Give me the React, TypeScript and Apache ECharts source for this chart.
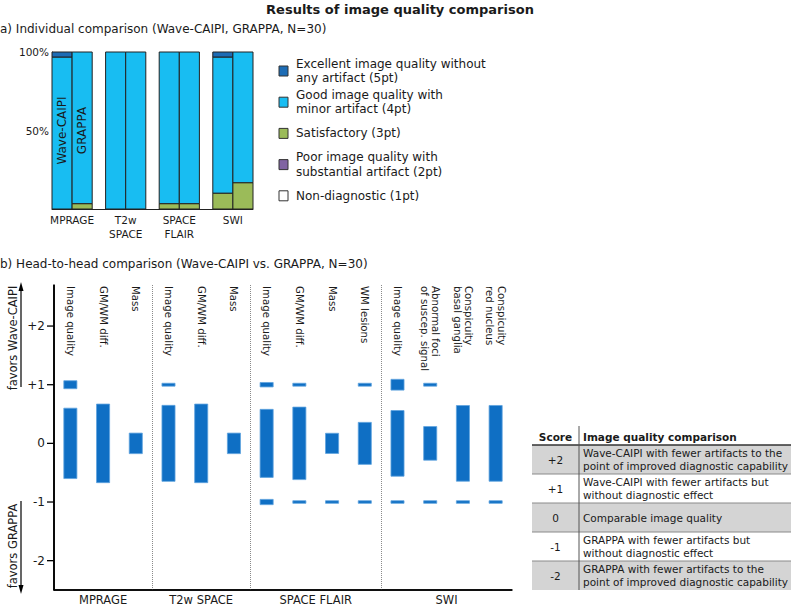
import React, { useEffect, useRef } from 'react';
import * as echarts from 'echarts';

const FONT = 'DejaVu Sans';
const INK = '#1a1a1a';

// ---------- Panel a: individual comparison ----------
const methodLabels = ['Wave-CAIPI', 'GRAPPA'];
const sequenceLabelsA = ['MPRAGE', 'T2w\nSPACE', 'SPACE\nFLAIR', 'SWI'];
const levelNames = [
  'Excellent image quality without\nany artifact (5pt)',
  'Good image quality with\nminor artifact (4pt)',
  'Satisfactory (3pt)',
  'Poor image quality with\nsubstantial artifact (2pt)',
  'Non-diagnostic (1pt)',
];
const levelColors = ['#1d6cb5', '#18bdf2', '#9bbb59', '#8064a2', '#ffffff'];
// bars: MPRAGE W, MPRAGE G, T2w W, T2w G, FLAIR W, FLAIR G, SWI W, SWI G (patients, N=30)
const count5pt = [1, 0, 0, 0, 0, 0, 1, 0];
const count4pt = [29, 29, 30, 30, 29, 29, 26, 25];
const count3pt = [0, 1, 0, 0, 1, 1, 3, 5];
const count2pt = [0, 0, 0, 0, 0, 0, 0, 0];
const count1pt = [0, 0, 0, 0, 0, 0, 0, 0];
const N = 30;
const tickValuesA = [50, 100];

// ---------- Panel b: head-to-head ----------
const groupLabelsB = ['MPRAGE', 'T2w SPACE', 'SPACE FLAIR', 'SWI'];
const catLabelsB = [
  'Image quality', 'GM/WM diff.', 'Mass',
  'Image quality', 'GM/WM diff.', 'Mass',
  'Image quality', 'GM/WM diff.', 'Mass', 'WM lesions',
  'Image quality', 'Abnormal foci\nof suscep. signal', 'Conspicuity\nbasal ganglia', 'Conspicuity\nred nucleus',
];
const catGroupB = [0, 0, 0, 1, 1, 1, 2, 2, 2, 2, 3, 3, 3, 3];
// half-heights of the distribution bars at score 0, +1, -1
const halfAtZero = [0.6, 0.67, 0.175, 0.648, 0.67, 0.175, 0.58, 0.618, 0.172, 0.358, 0.56, 0.287, 0.645, 0.646];
const halfAtPlus1 = [0.068, 0, 0, 0.025, 0, 0, 0.038, 0.025, 0, 0.025, 0.092, 0.025, 0, 0];
const halfAtMinus1 = [0, 0, 0, 0, 0, 0, 0.045, 0.022, 0.022, 0.022, 0.022, 0.022, 0.022, 0.022];
const scoreTicksB = [-2, -1, 0, 1, 2];
const scoreMinB = -2.5;
const scoreMaxB = 2.7;

// ---------- Table ----------
const tableScores = ['+2', '+1', '0', '-1', '-2'];
const tableTexts = [
  'Wave-CAIPI with fewer artifacts to the\npoint of improved diagnostic capability',
  'Wave-CAIPI with fewer artifacts but\nwithout diagnostic effect',
  'Comparable image quality',
  'GRAPPA with fewer artifacts but\nwithout diagnostic effect',
  'GRAPPA with fewer artifacts to the\npoint of improved diagnostic capability',
];

const GAP = 2 / 3;
const xMinB = -0.5;
const xMaxB = catLabelsB.length - 0.5;
const GRID_A = { left: 52, top: 52, width: 201, height: 157 };
const GRID_B = { left: 54, top: 285, width: 458, height: 305 };

function buildGraphics() {
  const graphics: any[] = [];
  levelNames.forEach((name, i) => {
    const cy = 71 + i * 31.2;
    graphics.push({
      type: 'rect', x: 279, y: cy - 5,
      shape: { x: 0, y: 0, width: 9, height: 10 },
      style: { fill: levelColors[i], stroke: '#333', lineWidth: 1 },
    });
    graphics.push({
      type: 'text', x: 296, y: cy,
      style: { text: name, fill: INK, fontSize: 12, fontFamily: FONT, verticalAlign: 'middle', lineHeight: 14.5 },
    });
  });

  graphics.push({
    type: 'text', x: 13, y: 338, rotation: Math.PI / 2,
    style: { text: 'favors Wave-CAIPI', fill: INK, fontSize: 11.5, fontFamily: FONT, align: 'center', verticalAlign: 'middle' },
  });
  graphics.push({ type: 'line', shape: { x1: 21, y1: 290, x2: 21, y2: 387 }, style: { stroke: '#000', lineWidth: 1.2 } });
  graphics.push({ type: 'polygon', shape: { points: [[21, 282], [18.5, 291], [23.5, 291]] }, style: { fill: '#000' } });
  graphics.push({
    type: 'text', x: 13, y: 546, rotation: Math.PI / 2,
    style: { text: 'favors GRAPPA', fill: INK, fontSize: 11.5, fontFamily: FONT, align: 'center', verticalAlign: 'middle' },
  });
  graphics.push({ type: 'line', shape: { x1: 21, y1: 501, x2: 21, y2: 586 }, style: { stroke: '#000', lineWidth: 1.2 } });
  graphics.push({ type: 'polygon', shape: { points: [[21, 594], [18.5, 585], [23.5, 585]] }, style: { fill: '#000' } });

  // frame and ticks of the score axis (linear map of the y axis extent onto the grid)
  const gx = GRID_B.left, gy0 = GRID_B.top, gy1 = GRID_B.top + GRID_B.height, gx1 = GRID_B.left + GRID_B.width;
  graphics.push({ type: 'line', z: 100, shape: { x1: gx, y1: gy0, x2: gx, y2: gy1 }, style: { stroke: '#000', lineWidth: 1.6 } });
  graphics.push({ type: 'line', z: 100, shape: { x1: gx, y1: gy1, x2: gx1, y2: gy1 }, style: { stroke: '#000', lineWidth: 1.6 } });
  scoreTicksB.forEach((v) => {
    const ty = gy0 + ((scoreMaxB - v) / (scoreMaxB - scoreMinB)) * GRID_B.height;
    graphics.push({ type: 'line', z: 100, shape: { x1: gx - 7, y1: ty, x2: gx, y2: ty }, style: { stroke: '#000', lineWidth: 1.3 } });
  });

  const tx0 = 532, tx1 = 791, tcol = 579, headTop = 426, headBot = 445, rowH = 29;
  tableScores.forEach((s, i) => {
    const top = headBot + i * rowH;
    if (i % 2 === 0) {
      graphics.push({
        type: 'rect', x: tx0, y: top, shape: { x: 0, y: 0, width: tx1 - tx0, height: rowH },
        style: { fill: '#d4d4d4' },
      });
    }
  });
  tableScores.forEach((s, i) => {
    const top = headBot + i * rowH;
    if (i > 0) {
      graphics.push({ type: 'line', shape: { x1: tx0, y1: top, x2: tx1, y2: top }, style: { stroke: '#8a8a8a', lineWidth: 1 } });
    }
    graphics.push({
      type: 'text', x: (tx0 + tcol) / 2, y: top + rowH / 2,
      style: { text: s, fill: INK, fontSize: 10.5, fontFamily: FONT, align: 'center', verticalAlign: 'middle' },
    });
    graphics.push({
      type: 'text', x: tcol + 4, y: top + rowH / 2,
      style: { text: tableTexts[i], fill: INK, fontSize: 10.5, fontFamily: FONT, verticalAlign: 'middle', lineHeight: 13 },
    });
  });
  graphics.push({ type: 'line', shape: { x1: tx0, y1: headBot, x2: tx1, y2: headBot }, style: { stroke: '#333', lineWidth: 1.6 } });
  graphics.push({ type: 'line', shape: { x1: tcol, y1: headTop, x2: tcol, y2: headBot + rowH * tableScores.length }, style: { stroke: '#555', lineWidth: 1 } });
  graphics.push({
    type: 'text', x: (tx0 + tcol) / 2, y: (headTop + headBot) / 2 + 1,
    style: { text: 'Score', fill: INK, fontSize: 10.5, fontWeight: 'bold', fontFamily: FONT, align: 'center', verticalAlign: 'middle' },
  });
  graphics.push({
    type: 'text', x: tcol + 4, y: (headTop + headBot) / 2 + 1,
    style: { text: 'Image quality comparison', fill: INK, fontSize: 10.5, fontWeight: 'bold', fontFamily: FONT, verticalAlign: 'middle' },
  });
  return graphics;
}

function buildOption() {
  const levelCounts = [count5pt, count4pt, count3pt, count2pt, count1pt];
  const levelData: number[][][] = levelCounts.map(() => []);
  const nBars = count4pt.length;
  for (let b = 0; b < nBars; b++) {
    const g = Math.floor(b / 2);
    const x0 = g * (2 + GAP) + (b % 2);
    let cum = 0;
    for (let li = levelCounts.length - 1; li >= 0; li--) {
      const v = (levelCounts[li][b] / N) * 100;
      if (v > 0) levelData[li].push([x0, x0 + 1, cum, cum + v]);
      cum += v;
    }
  }
  const groupCentersA = sequenceLabelsA.map((_, g) => g * (2 + GAP) + 1);
  const maxA = sequenceLabelsA.length * 2 + (sequenceLabelsA.length - 1) * GAP;

  const seriesA = levelNames.map((name, li) => ({
    type: 'custom',
    name,
    xAxisIndex: 0,
    yAxisIndex: 0,
    encode: { x: [0, 1], y: [2, 3] },
    data: levelData[li],
    renderItem: (params: any, api: any) => {
      const p0 = api.coord([api.value(0), api.value(3)]);
      const p1 = api.coord([api.value(1), api.value(2)]);
      return {
        type: 'rect',
        shape: { x: p0[0], y: p0[1], width: p1[0] - p0[0], height: p1[1] - p0[1] },
        style: { fill: levelColors[li], stroke: '#222', lineWidth: 1 },
      };
    },
  }));

  const methodLabelSeries = {
    type: 'custom',
    xAxisIndex: 0,
    yAxisIndex: 0,
    silent: true,
    data: methodLabels.map((_, m) => [m + 0.5, 50]),
    renderItem: (params: any, api: any) => {
      const p = api.coord([api.value(0), api.value(1)]);
      return {
        type: 'text', x: p[0], y: p[1], rotation: Math.PI / 2,
        style: {
          text: methodLabels[params.dataIndex], fill: INK, fontSize: 12, fontFamily: FONT,
          align: 'center', verticalAlign: 'middle',
        },
      };
    },
  };

  const segB: number[][] = [];
  catLabelsB.forEach((_, i) => {
    segB.push([i, -halfAtZero[i], halfAtZero[i]]);
    if (halfAtPlus1[i] > 0) segB.push([i, 1 - halfAtPlus1[i], 1 + halfAtPlus1[i]]);
    if (halfAtMinus1[i] > 0) segB.push([i, -1 - halfAtMinus1[i], -1 + halfAtMinus1[i]]);
  });
  const groupCentersB = groupLabelsB.map((_, g) => {
    const idx = catGroupB.map((gg, i) => (gg === g ? i : -1)).filter((i) => i >= 0);
    return (idx[0] + idx[idx.length - 1]) / 2;
  });
  const separatorsB: number[] = [];
  for (let i = 1; i < catGroupB.length; i++) if (catGroupB[i] !== catGroupB[i - 1]) separatorsB.push(i - 0.5);

  const seriesB = {
    type: 'custom',
    xAxisIndex: 1,
    yAxisIndex: 1,
    encode: { x: 0, y: [1, 2] },
    data: segB,
    renderItem: (params: any, api: any) => {
      const w = api.size([1, 0])[0] * 0.4;
      const pTop = api.coord([api.value(0), api.value(2)]);
      const pBot = api.coord([api.value(0), api.value(1)]);
      return {
        type: 'rect',
        shape: { x: pTop[0] - w / 2, y: pTop[1], width: w, height: pBot[1] - pTop[1] },
        style: { fill: '#0f6fc4', stroke: '#5fa3de', lineWidth: 0.8 },
      };
    },
  };

  const separatorSeries = {
    type: 'line',
    xAxisIndex: 1,
    yAxisIndex: 1,
    data: [[0, 0]],
    symbol: 'none',
    lineStyle: { opacity: 0 },
    silent: true,
    markLine: {
      silent: true,
      symbol: ['none', 'none'],
      label: { show: false },
      lineStyle: { type: 'dotted', color: '#8a8a8a', width: 1 },
      data: separatorsB.map((x) => ({ xAxis: x })),
    },
  };

  return {
    animation: false,
    backgroundColor: '#ffffff',
    textStyle: { fontFamily: FONT, color: INK },
    title: [
      { text: 'Results of image quality comparison', left: 'center', top: 3, padding: 0, textStyle: { fontSize: 13, fontWeight: 'bold', color: INK, fontFamily: FONT } },
      { text: 'a) Individual comparison (Wave-CAIPI, GRAPPA, N=30)', left: 0, top: 23, padding: 0, textStyle: { fontSize: 12, fontWeight: 'normal', color: INK, fontFamily: FONT } },
      { text: 'b) Head-to-head comparison (Wave-CAIPI vs. GRAPPA, N=30)', left: 0, top: 258, padding: 0, textStyle: { fontSize: 12, fontWeight: 'normal', color: INK, fontFamily: FONT } },
    ],
    grid: [GRID_A, GRID_B],
    xAxis: [
      {
        gridIndex: 0, type: 'value', min: 0, max: maxA,
        axisLine: { show: true, onZero: false, lineStyle: { color: '#222', width: 1 } },
        axisTick: { show: false },
        splitLine: { show: false },
        axisLabel: {
          customValues: groupCentersA, margin: 4, fontSize: 10.5, lineHeight: 14, color: INK,
          formatter: (v: number) => {
            let best = 0;
            groupCentersA.forEach((c, i) => { if (Math.abs(c - v) < Math.abs(groupCentersA[best] - v)) best = i; });
            return sequenceLabelsA[best];
          },
        },
      },
      {
        gridIndex: 1, type: 'value', min: xMinB, max: xMaxB,
        axisLine: { show: true, onZero: false, lineStyle: { color: '#000', width: 1.6 } },
        axisTick: { show: false },
        splitLine: { show: false },
        axisLabel: {
          customValues: groupCentersB, margin: 4, fontSize: 11.5, color: INK,
          formatter: (v: number) => {
            let best = 0;
            groupCentersB.forEach((c, i) => { if (Math.abs(c - v) < Math.abs(groupCentersB[best] - v)) best = i; });
            return groupLabelsB[best];
          },
        },
      },
      {
        gridIndex: 1, type: 'category', position: 'top', data: catLabelsB,
        axisLine: { show: false, onZero: false },
        axisTick: { show: false },
        splitLine: { show: false },
        axisLabel: { inside: true, rotate: 90, margin: 1, interval: 0, fontSize: 10.2, lineHeight: 11.5, color: INK },
      },
    ],
    yAxis: [
      {
        gridIndex: 0, type: 'value', min: 0, max: 100,
        axisLine: { show: true, onZero: false, lineStyle: { color: '#222', width: 1 } },
        axisTick: { show: false },
        splitLine: { show: false },
        axisLabel: { customValues: tickValuesA, formatter: (v: number) => v + '%', fontSize: 10.5, margin: 3, color: INK },
      },
      {
        gridIndex: 1, type: 'value', min: scoreMinB, max: scoreMaxB,
        axisLine: { show: true, onZero: false, lineStyle: { color: '#000', width: 1.6 } },
        axisTick: { show: false },
        splitLine: { show: false },
        axisLabel: {
          customValues: scoreTicksB,
          formatter: (v: number) => (v > 0 ? '+' + v : String(v)),
          fontSize: 12, margin: 9, color: INK,
        },
      },
    ],
    series: [...seriesA, methodLabelSeries, seriesB, separatorSeries],
    graphic: buildGraphics(),
  };
}

export default function App() {
  const ref = useRef<HTMLDivElement>(null);
  useEffect(() => {
    if (!ref.current) return;
    const chart = echarts.init(ref.current, undefined, { renderer: 'svg' });
    chart.setOption(buildOption() as any);
    return () => chart.dispose();
  }, []);
  return (
    <div
      ref={ref}
      style={{ position: 'absolute', left: 0, top: 0, width: 800, height: 609, background: '#fff' }}
    />
  );
}
